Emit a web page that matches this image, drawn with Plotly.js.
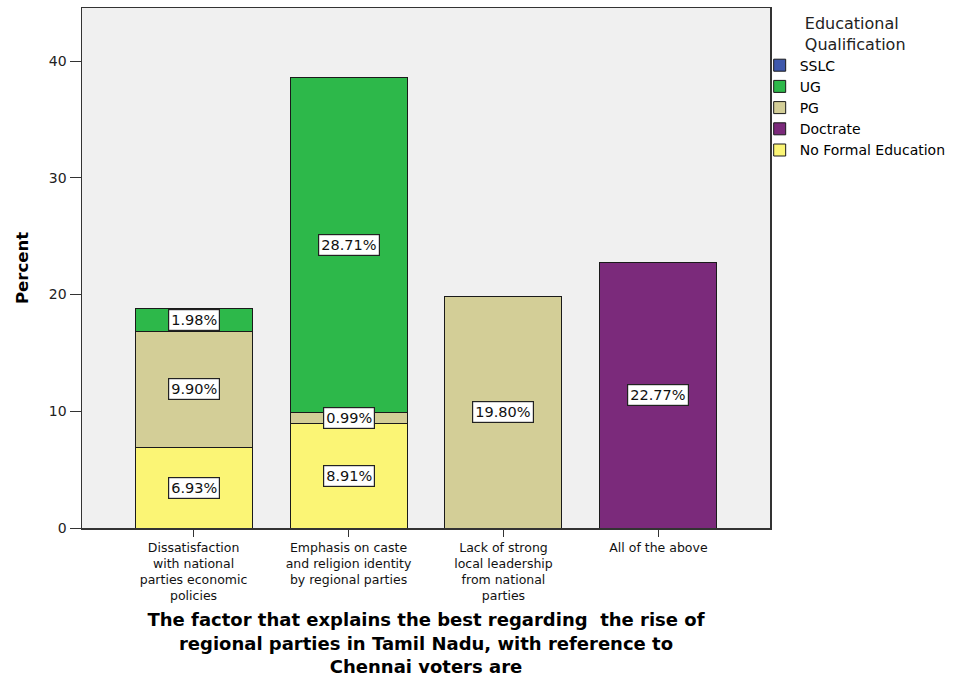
<!DOCTYPE html>
<html>
<head>
<meta charset="utf-8">
<script src="https://cdn.plot.ly/plotly-3.0.1.min.js"></script>
<style>html,body{margin:0;padding:0;background:#fff;}#chart{width:960px;height:677px;}</style>
</head>
<body>
<div id="chart"></div>
<script>
var categories = [
  "Dissatisfaction<br>with national<br>parties economic<br>policies",
  "Emphasis on caste<br>and religion identity<br>by regional parties",
  "Lack of strong<br>local leadership<br>from national<br>parties",
  "All of the above"
];
var noFormal = [6.93, 8.91, null, null];
var pg = [9.90, 0.99, 19.80, null];
var ug = [1.98, 28.71, null, null];
var doctrate = [null, null, null, 22.77];
var sslc = [0, 0, 0, 0];
var yTicks = [0, 10, 20, 30, 40];

var series = [
  {name: "No Formal Education", values: noFormal, color: "#FBF575", rank: 5},
  {name: "PG", values: pg, color: "#D3CE97", rank: 3},
  {name: "UG", values: ug, color: "#2DB84A", rank: 2},
  {name: "Doctrate", values: doctrate, color: "#7B2A7B", rank: 4},
  {name: "SSLC", values: sslc, color: "#3E58AC", rank: 1}
];

var xIdx = categories.map(function(_, i){ return i; });
var traces = series.map(function(s){
  return {
    type: "bar", name: s.name, x: xIdx, y: s.values,
    width: 0.755, legendrank: s.rank,
    marker: {color: s.color, line: {color: "#1a1a1a", width: 1}},
    hoverinfo: "skip"
  };
});

var annotations = [];
var cum = categories.map(function(){ return 0; });
series.forEach(function(s){
  s.values.forEach(function(v, i){
    if (v === null || v === undefined || v === 0) return;
    var mid = cum[i] + v / 2;
    cum[i] += v;
    annotations.push({
      x: i, y: mid, xref: "x", yref: "y",
      text: v.toFixed(2) + "%", showarrow: false,
      font: {family: "DejaVu Sans, Verdana, sans-serif", size: 14.5, color: "#111"},
      bgcolor: "#ffffff", bordercolor: "#222", borderwidth: 1.2, borderpad: 2
    });
  });
});

var layout = {
  width: 960, height: 677,
  paper_bgcolor: "#ffffff", plot_bgcolor: "#F0F0F0",
  margin: {l: 82, r: 190, t: 8, b: 149},
  barmode: "stack", bargap: 0,
  showlegend: true,
  font: {family: "DejaVu Sans, Verdana, sans-serif", size: 13, color: "#000"},
  xaxis: {
    range: [-0.72, 3.72], tickmode: "array", tickvals: xIdx, ticktext: categories,
    showline: true, linecolor: "#333", linewidth: 1.5, mirror: true,
    ticks: "outside", ticklen: 7, tickcolor: "#333", showgrid: false, zeroline: false,
    tickfont: {family: "DejaVu Sans, Verdana, sans-serif", size: 12.5, color: "#111"},
    title: {text: "<b>The factor that explains the best regarding  the rise of<br>regional parties in Tamil Nadu, with reference to<br>Chennai voters are</b>",
            font: {family: "DejaVu Sans, Verdana, sans-serif", size: 18, color: "#000"}, standoff: 12}
  },
  yaxis: {
    range: [0, 44.54], tickvals: yTicks,
    showline: true, linecolor: "#333", linewidth: 1.5, mirror: true,
    ticks: "outside", ticklen: 11, tickcolor: "#333", showgrid: false, zeroline: false,
    tickfont: {family: "DejaVu Sans, Verdana, sans-serif", size: 14, color: "#222"},
    title: {text: "<b>Percent</b>", font: {family: "DejaVu Sans, Verdana, sans-serif", size: 16.5, color: "#000"}, standoff: 16}
  },
  legend: {
    x: 0.985, xanchor: "left", y: 1.0, yanchor: "top",
    traceorder: "normal", tracegroupgap: 0, itemwidth: 30,
    font: {family: "DejaVu Sans, Verdana, sans-serif", size: 14, color: "#000"},
    title: {text: "Educational<br>Qualification", side: "top center",
            font: {family: "DejaVu Sans, Verdana, sans-serif", size: 16, color: "#222"}},
    bgcolor: "rgba(0,0,0,0)"
  },
  annotations: annotations
};

Plotly.newPlot("chart", traces, layout, {displayModeBar: false, staticPlot: true});
</script>
</body>
</html>
